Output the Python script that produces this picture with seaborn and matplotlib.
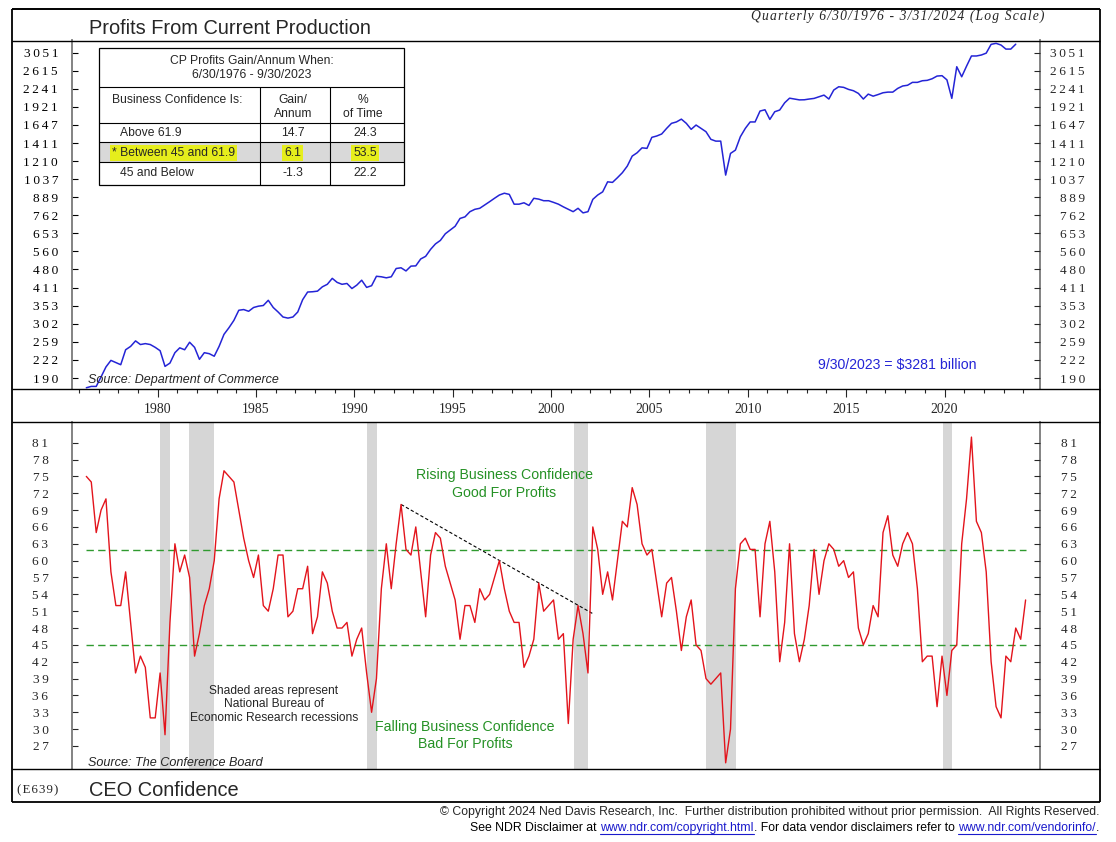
import numpy as np
import pandas as pd
import matplotlib
matplotlib.use("Agg")
import matplotlib.pyplot as plt
import seaborn as sns
from matplotlib.lines import Line2D
from matplotlib.patches import Rectangle
from matplotlib.ticker import NullLocator, FixedLocator

# ---------------- data ----------------
# Corporate profits from current production, $ billions (quarterly, 6/30/1976 - 9/30/2023)
profits = [
    175, 177, 177, 192, 209, 221, 217, 213, 242, 249,
    261, 253, 255, 253, 247, 240, 210, 216, 236, 246,
    242, 258, 247, 223, 236, 234, 229, 249, 276, 292,
    311, 339, 341, 336, 347, 351, 353, 369, 347, 334,
    320, 317, 320, 334, 371, 396, 397, 399, 414, 423,
    445, 430, 423, 426, 408, 420, 438, 412, 418, 453,
    451, 447, 451, 484, 487, 474, 494, 495, 525, 537,
    570, 597, 615, 651, 672, 694, 742, 752, 786, 802,
    809, 832, 856, 881, 906, 920, 911, 838, 838, 848,
    829, 881, 875, 863, 863, 851, 838, 819, 802, 786,
    809, 778, 786, 873, 906, 931, 1014, 1009, 1050, 1096,
    1160, 1263, 1299, 1355, 1349, 1482, 1499, 1525, 1600, 1670,
    1690, 1731, 1670, 1587, 1646, 1600, 1555, 1457, 1435, 1435,
    1074, 1292, 1329, 1490, 1600, 1690, 1690, 1855, 1875, 1727,
    1844, 1871, 1990, 2070, 2055, 2040, 2042, 2055, 2066, 2095,
    2125, 2055, 2219, 2282, 2270, 2231, 2206, 2156, 2055, 2143,
    2106, 2135, 2168, 2180, 2180, 2250, 2297, 2311, 2369, 2369,
    2402, 2410, 2443, 2500, 2508, 2420, 2067, 2707, 2485, 2720,
    2967, 2967, 2992, 3040, 3277, 3305, 3257, 3147, 3147, 3281,
]
# CEO Confidence (quarterly, 6/30/1976 - 3/31/2024)
ceo = [
    75, 74, 65, 69, 71, 58, 52, 52, 58, 49,
    40, 43, 41, 32, 32, 40, 29, 49, 63, 58,
    61, 57, 43, 47, 52, 55, 60, 71, 76, 75,
    74, 69, 64, 60, 57, 61, 52, 51, 55, 61,
    61, 50, 51, 55, 55, 59, 47, 50, 58, 56,
    51, 48, 48, 49, 43, 46, 48, 40, 33, 39,
    55, 63, 55, 63, 70, 62, 61, 66, 58, 50,
    61, 65, 64, 59, 56, 53, 46, 52, 52, 49,
    55, 53, 54, 57, 60, 55, 51, 49, 49, 41,
    43, 46, 56, 51, 52, 53, 46, 47, 31, 46,
    52, 47, 40, 66, 62, 54, 58, 53, 60, 67,
    66, 73, 70, 63, 61, 62, 56, 50, 56, 57,
    51, 44, 50, 53, 45, 44, 39, 38, 39, 40,
    24, 30, 55, 63, 64, 62, 62, 50, 63, 67,
    58, 42, 49, 63, 47, 42, 46, 52, 62, 54,
    60, 63, 62, 59, 60, 57, 58, 48, 45, 47,
    52, 50, 65, 68, 61, 59, 63, 65, 63, 55,
    42, 43, 43, 34, 43, 36, 44, 45, 63, 71,
    82, 67, 65, 58, 42, 34, 32, 43, 42, 48,
    46, 53,
]
quarter_ends = pd.date_range("1976-06-30", periods=len(ceo), freq="QE")

top_ticks = [190, 222, 259, 302, 353, 411, 480, 560, 653, 762, 889,
             1037, 1210, 1411, 1647, 1921, 2241, 2615, 3051]
bot_ticks = [27, 30, 33, 36, 39, 42, 45, 48, 51, 54, 57, 60, 63, 66, 69, 72, 75, 78, 81]
year_ticks = [1980, 1985, 1990, 1995, 2000, 2005, 2010, 2015, 2020]
confidence_levels = [61.9, 45]
recessions = [(1980.10, 1980.60), (1981.58, 1982.87), (1990.62, 1991.15),
              (2001.15, 2001.86), (2007.88, 2009.40), (2019.92, 2020.40)]
trend_x = [1992.375, 2002.1]
trend_y = [70, 50.6]

table_rows = [("Above 61.9", "14.7", "24.3", False),
              ("* Between 45 and 61.9", "6.1", "53.5", True),
              ("45 and Below", "-1.3", "22.2", False)]

# ---------------- style ----------------
sns.set_style("white")
SANS = ["Liberation Sans", "DejaVu Sans"]
SERIF = ["Liberation Serif", "DejaVu Serif"]
plt.rcParams["font.family"] = SANS

BLUE = "#2424d6"
RED = "#e3141c"
GREEN = "#2f9a2f"
GREEN_TXT = "#259125"
SHADE = "#d6d6d6"
SPINE = "#7a7a7a"
YELLOW = "#e6ee1c"
LINK = "#1a1acc"

W, H = 1116, 842
fig = plt.figure(figsize=(W / 100, H / 100), dpi=100)
fig.patch.set_facecolor("white")


def fx(x):
    return x / W


def fy(y):
    return 1 - y / H


def spaced(v, sep="\u2009"):
    return sep.join(str(v))


L, R = 72, 1040
TOP0, TOP1 = 40.5, 389.5
BOT0, BOT1 = 421.7, 769.0
XMIN, XMAX = 1975.643, 2024.855

ax_top = fig.add_axes([fx(L), fy(TOP1), (R - L) / W, (TOP1 - TOP0) / H])
ax_bot = fig.add_axes([fx(L), fy(BOT1), (R - L) / W, (BOT1 - BOT0) / H])

# time axis in decimal years (plotted mid-quarter)
mid = quarter_ends - pd.Timedelta(days=45)
dec = mid.year + (mid.dayofyear - 1) / np.where(mid.is_leap_year, 366, 365)
df_top = pd.DataFrame({"t": dec[: len(profits)], "profits": profits})
df_bot = pd.DataFrame({"t": dec, "ceo": ceo})

# ---------------- top panel ----------------
sns.lineplot(data=df_top, x="t", y="profits", ax=ax_top, color=BLUE, lw=1.1,
             estimator=None, legend=False)
ax_top.set_yscale("log")
ax_top.set_xlim(XMIN, XMAX)
ax_top.set_ylim(172.4, 3386)
ax_top.set_xlabel("")
ax_top.set_ylabel("")
ax_top.set_yticks(top_ticks, [spaced(v) for v in top_ticks], fontfamily=SERIF, fontsize=9.6)
ax_top.yaxis.set_minor_locator(NullLocator())
ax_top.tick_params(axis="y", which="major", direction="in", length=4, width=0.8,
                   pad=10, colors="black", left=True)
ax_top.set_xticks(year_ticks, [str(y) for y in year_ticks], fontfamily=SERIF, fontsize=9.9)
ax_top.xaxis.set_minor_locator(FixedLocator(list(range(1976, 2025))))
ax_top.tick_params(axis="x", which="major", direction="out", length=6, width=0.8,
                   pad=3.8, bottom=True)
ax_top.tick_params(axis="x", which="minor", direction="out", length=3.2, width=0.8,
                   bottom=True)

axr = ax_top.twinx()
axr.set_yscale("log")
axr.set_ylim(172.4, 3386)
axr.set_yticks(top_ticks, [spaced(v) for v in top_ticks], fontfamily=SERIF, fontsize=9.6,
               ha="right")
axr.yaxis.set_minor_locator(NullLocator())
axr.tick_params(axis="y", direction="in", length=4, width=0.8, pad=32.4, right=True)

for a in (ax_top, axr, ax_bot):
    for s in ("top", "bottom"):
        a.spines[s].set_visible(False)
    for s in ("left", "right"):
        a.spines[s].set_color(SPINE)
        a.spines[s].set_linewidth(1.3)
for s in ("left", "right"):
    axr.spines[s].set_visible(False)

# ---------------- bottom panel ----------------
for s, e in recessions:
    ax_bot.axvspan(s, e, color=SHADE, lw=0, zorder=0)
ax_bot.hlines(confidence_levels, dec[0], dec[-1], colors=GREEN, lw=1.0,
              linestyles=[(0, (5.3, 3.1))], zorder=1)
ax_bot.plot(trend_x, trend_y, color="black", lw=0.8, ls=(0, (3, 2)), zorder=2)
sns.lineplot(data=df_bot, x="t", y="ceo", ax=ax_bot, color=RED, lw=1.0,
             estimator=None, legend=False, zorder=3)
ax_bot.set_xlim(XMIN, XMAX)
ax_bot.set_ylim(22.9, 84.74)
ax_bot.set_xlabel("")
ax_bot.set_ylabel("")
ax_bot.tick_params(axis="x", bottom=False, labelbottom=False)
ax_bot.set_yticks(bot_ticks, [spaced(v) for v in bot_ticks], fontfamily=SERIF,
                  fontsize=9.6, ha="center")
ax_bot.tick_params(axis="y", direction="in", length=4, width=0.8, pad=22.7, left=True)

axbr = ax_bot.twinx()
axbr.set_ylim(22.9, 84.74)
axbr.set_yticks(bot_ticks, [spaced(v) for v in bot_ticks], fontfamily=SERIF,
                fontsize=9.6, ha="center")
axbr.tick_params(axis="y", direction="in", length=4, width=0.8, pad=20.9, right=True)
for s in axbr.spines:
    axbr.spines[s].set_visible(False)


# ---------------- frame ----------------
def hline(y, x0=12, x1=1100, lw=1.0, color="black"):
    fig.add_artist(Line2D([fx(x0), fx(x1)], [fy(y), fy(y)], transform=fig.transFigure,
                          color=color, lw=lw, solid_capstyle="butt"))


def vline(x, y0, y1, lw=1.0, color="black"):
    fig.add_artist(Line2D([fx(x), fx(x)], [fy(y0), fy(y1)], transform=fig.transFigure,
                          color=color, lw=lw, solid_capstyle="butt"))


hline(9.3, lw=1.4)
hline(801.7, lw=1.3)
vline(12.3, 9.3, 801.7, lw=1.3)
vline(1099.5, 9.3, 801.7, lw=1.3)
hline(TOP0)
hline(TOP1)
hline(BOT0)
hline(BOT1)

# ---------------- texts ----------------
fig.text(fx(89), fy(28), "Profits From Current Production", fontsize=14.4, ha="left",
         va="center", family=SANS)
fig.text(fx(1044), fy(16), spaced("Quarterly 6/30/1976 - 3/31/2024 (Log Scale)", "\u200a"),
         fontsize=9.8, style="italic", family=SERIF, ha="right", va="center")
fig.text(fx(88), fy(380), "Source: Department of Commerce", fontsize=9, style="italic",
         ha="left", va="center")
fig.text(fx(977), fy(365), "9/30/2023 = $3281 billion", fontsize=10.2, color=BLUE,
         ha="right", va="center")

GKW = dict(fontsize=10.2, color=GREEN_TXT, ha="center", va="center")
fig.text(fx(504), fy(475), "Rising Business Confidence", **GKW)
fig.text(fx(504), fy(493), "Good For Profits", **GKW)
fig.text(fx(465), fy(727), "Falling Business Confidence", **GKW)
fig.text(fx(465), fy(744), "Bad For Profits", **GKW)
for k, s in enumerate(["Shaded areas represent", "National Bureau of",
                       "Economic Research recessions"]):
    fig.text(fx(274), fy(691 + 13.4 * k), s, fontsize=8.65, ha="center", va="center")
fig.text(fx(88), fy(762.5), "Source: The Conference Board", fontsize=9.1, style="italic",
         ha="left", va="center")

fig.text(fx(37.5), fy(790), spaced("(E639)", "\u200a"), fontsize=9.3, family=SERIF,
         ha="center", va="center")
fig.text(fx(89), fy(790), "CEO Confidence", fontsize=14.4, ha="left", va="center")

# ---------------- table ----------------
TX0, TX1, TY0, TY1 = 99, 404, 48, 185
C1, C2 = 260, 330
fig.add_artist(Rectangle((fx(TX0), fy(TY1)), (TX1 - TX0) / W, (TY1 - TY0) / H,
                         transform=fig.transFigure, facecolor="white", edgecolor="none",
                         zorder=4))
fig.add_artist(Rectangle((fx(TX0), fy(162)), (TX1 - TX0) / W, (162 - 142.3) / H,
                         transform=fig.transFigure, facecolor="#d9d9d9", edgecolor="none",
                         zorder=4))
fig.add_artist(Rectangle((fx(TX0), fy(TY1)), (TX1 - TX0) / W, (TY1 - TY0) / H,
                         transform=fig.transFigure, facecolor="none", edgecolor="black",
                         lw=0.9, zorder=5))
for yy in (87.3, 122.7, 142.3, 162):
    fig.add_artist(Line2D([fx(TX0), fx(TX1)], [fy(yy), fy(yy)], transform=fig.transFigure,
                          color="black", lw=0.8, zorder=5))
for xx in (C1, C2):
    fig.add_artist(Line2D([fx(xx), fx(xx)], [fy(87.3), fy(TY1)], transform=fig.transFigure,
                          color="black", lw=0.8, zorder=5))
TFS = 8.7
tkw = dict(fontsize=TFS, va="center", zorder=6)
fig.text(fx(251.5), fy(61.5), "CP Profits Gain/Annum When:", ha="center", **tkw)
fig.text(fx(251.5), fy(75), "6/30/1976 - 9/30/2023", ha="center", **tkw)
fig.text(fx(112), fy(100), "Business Confidence Is:", ha="left", **tkw)
fig.text(fx(293), fy(100), "Gain/", ha="center", **tkw)
fig.text(fx(293), fy(114.3), "Annum", ha="center", **tkw)
fig.text(fx(362.5), fy(100), "%", ha="center", **tkw)
fig.text(fx(362.5), fy(114.3), "of Time", ha="center", **tkw)
for k, (lab, gain, pct, hl) in enumerate(table_rows):
    yy = 133.5 + 19.6 * k
    box = dict(facecolor=YELLOW, edgecolor="none", pad=1.2) if hl else None
    fig.text(fx(112 if hl else 120), fy(yy), lab, ha="left", bbox=box, **tkw)
    fig.text(fx(292.5), fy(yy), gain, ha="center", bbox=box, **tkw)
    fig.text(fx(365), fy(yy), pct, ha="center", bbox=box, **tkw)

# ---------------- footer ----------------
renderer = fig.canvas.get_renderer()
FKW = dict(fontsize=8.8, family=SANS)


def text_width(s):
    t = fig.text(0, 0, s, **FKW)
    w = t.get_window_extent(renderer).width
    t.remove()
    return w


fig.text(fx(1099), fy(812), "\u00a9 Copyright 2024 Ned Davis Research, Inc.  Further distribution "
         "prohibited without prior permission.  All Rights Reserved.", ha="right", va="center",
         **FKW)
segs = [("See NDR Disclaimer at ", "black", False),
        ("www.ndr.com/copyright.html", LINK, True),
        (". For data vendor disclaimers refer to ", "black", False),
        ("www.ndr.com/vendorinfo/", LINK, True),
        (".", "black", False)]
full = "".join(s for s, _, _ in segs)
bar = text_width("|")
x_left = 1099 - text_width(full)
pos = 0
for s, c, u in segs:
    x = x_left + ((text_width(full[:pos] + "|") - bar) if pos else 0)
    fig.text(fx(x), fy(828), s, color=c, ha="left", va="center", **FKW)
    if u:
        w = text_width(s)
        fig.add_artist(Line2D([fx(x), fx(x + w)], [fy(834), fy(834)],
                              transform=fig.transFigure, color=c, lw=0.8))
    pos += len(s)

fig.savefig("out.png", dpi=100, facecolor="white")
